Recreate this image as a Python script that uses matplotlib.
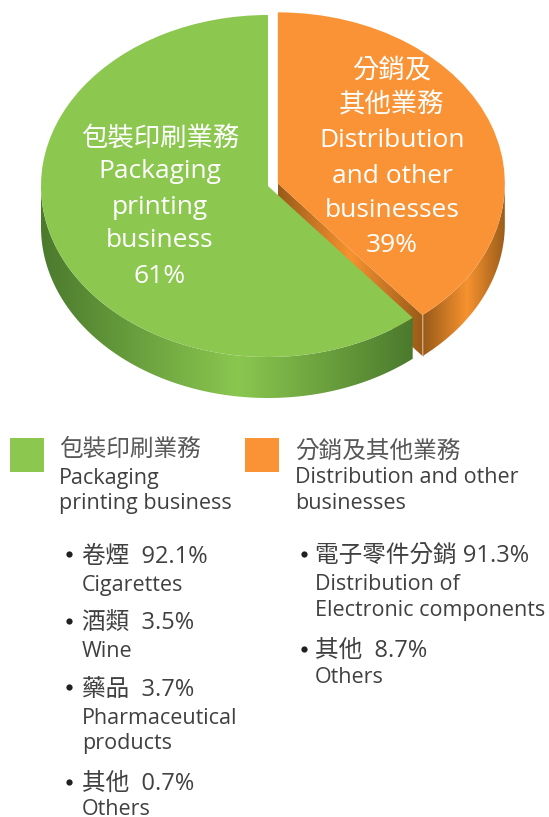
import numpy as np
import matplotlib
matplotlib.use('Agg')
import matplotlib.pyplot as plt
from matplotlib.colors import LinearSegmentedColormap
from matplotlib.patches import Polygon, Rectangle

plt.rcParams['font.family'] = ['Open Sans', 'Noto Sans CJK TC', 'DejaVu Sans']

# share of turnover
shares = [61, 39]
green = '#8CC750'
orange = '#F99335'
text_color = '#404040'
cjk_color = '#585858'

pie_labels_left = ['包裝印刷業務', 'Packaging', 'printing', 'business', '61%']
pie_labels_right = ['分銷及', '其他業務', 'Distribution', 'and other', 'businesses', '39%']

legend_left = ['包裝印刷業務', 'Packaging', 'printing business']
legend_right = ['分銷及其他業務', 'Distribution and other', 'businesses']

items_left = ['卷煙  92.1%', 'Cigarettes', '酒類  3.5%', 'Wine', '藥品  3.7%',
              'Pharmaceutical', 'products', '其他  0.7%', 'Others']
items_right = ['電子零件分銷 91.3%', 'Distribution of', 'Electronic components',
               '其他  8.7%', 'Others']

W, H = 549, 817
# pie geometry in pixels
cx, cy, rx, ry, depth_px = 268, 186, 227, 171, 41
depth = depth_px / ry

fig = plt.figure(figsize=(W / 100, H / 100), dpi=100)

# pie axes: one data unit is the ellipse radius, so the pie comes out squashed
ax = fig.add_axes([0, 0, 1, 1])
explode = [0, 0.046]
wedges, _ = ax.pie(shares, colors=[green, orange], startangle=90, explode=explode,
                   wedgeprops={'linewidth': 0}, radius=1)
for w in wedges:
    w.set_zorder(5)
ax.set_aspect('auto')
xlim = (-cx / rx, (W - cx) / rx)
ylim = ((cy - H) / ry, cy / ry)
ax.set_xlim(xlim)
ax.set_ylim(ylim)

split = 90 + 360 * shares[0] / sum(shares)
mid = np.radians(split + 180 * shares[1] / sum(shares))
ox, oy = explode[1] * np.cos(mid), explode[1] * np.sin(mid)


def gradient_wall(xs, ys, dark, light, peak, z):
    cmap = LinearSegmentedColormap.from_list('wall', [(0, dark), (peak, light), (1, dark)])
    poly = Polygon(np.column_stack([xs, ys]), closed=True, transform=ax.transData,
                   facecolor='none', edgecolor='none')
    ax.add_patch(poly)
    im = ax.imshow(np.linspace(0, 1, 256)[None, :], cmap=cmap, aspect='auto', zorder=z,
                   extent=(min(xs), max(xs), min(ys), max(ys)), interpolation='bilinear')
    im.set_clip_path(poly)


def outer_wall(a0, a1, dx, dy, dark, light, peak, z):
    a = np.radians(np.linspace(a0, a1, 200))
    x = np.cos(a) + dx
    y = np.sin(a) + dy
    gradient_wall(np.r_[x, x[::-1]], np.r_[y, y[::-1] - depth], dark, light, peak, z)


# orange side and cut face sit behind the green slice
tip_a = np.radians(split)
tip_x, tip_y = np.cos(tip_a) + ox, np.sin(tip_a) + oy
outer_wall(split, 360, ox, oy, '#995B19', '#F7922F', 0.53, 2)
gradient_wall([ox, tip_x, tip_x, ox], [oy, tip_y, tip_y - depth, oy - depth],
              '#995B19', '#F7922F', 0.5, 2)
ax.plot([tip_x, tip_x], [tip_y, tip_y - depth], color='#C98F55', lw=0.4, zorder=3)

# green side
outer_wall(180, split, 0, 0, '#4B7A2D', '#8AC74F', 0.53, 4)
ax.set_xlim(xlim)
ax.set_ylim(ylim)
ax.axis('off')

# overlay in pixel coordinates for the text and the key
ov = fig.add_axes([0, 0, 1, 1])
ov.set_xlim(0, W)
ov.set_ylim(H, 0)
ov.axis('off')
ov.patch.set_alpha(0)

for txt, y in zip(pie_labels_left, [146, 178, 214, 247, 283]):
    ov.text(160, y, txt, color='white', fontsize=19, ha='center', va='baseline')
for txt, y in zip(pie_labels_right, [78, 113, 147, 183, 217, 252]):
    ov.text(392, y, txt, color='white', fontsize=19, ha='center', va='baseline')

ov.add_patch(Rectangle((10, 438), 34, 34, color=green, lw=0))
ov.add_patch(Rectangle((245, 438), 34, 34, color=orange, lw=0))

for i, (txt, y) in enumerate(zip(legend_left, [456, 484, 509])):
    ov.text(59, y, txt, color=cjk_color if i == 0 else text_color,
            fontsize=17 if i == 0 else 15.5, va='baseline')
for i, (txt, y) in enumerate(zip(legend_right, [458, 483, 509])):
    ov.text(295, y, txt, color=cjk_color if i == 0 else text_color,
            fontsize=17 if i == 0 else 15.5, va='baseline')

# lines holding a percentage also hold Chinese and run wider
for txt, y in zip(items_left, [563, 591, 629, 657, 696, 724, 749, 790, 815]):
    ov.text(82, y, txt, color=text_color, fontsize=17 if '%' in txt else 15.5, va='baseline')
for txt, y in zip(items_right, [563, 590, 616, 657, 683]):
    ov.text(315, y, txt, color=text_color, fontsize=17 if '%' in txt else 15.5, va='baseline')

ov.plot([69] * 4, [554, 621, 687, 782], 'o', color='#231F20', ms=4.5, mew=0)
ov.plot([304] * 2, [554, 649], 'o', color='#231F20', ms=4.5, mew=0)

fig.savefig('out.png', dpi=100)
